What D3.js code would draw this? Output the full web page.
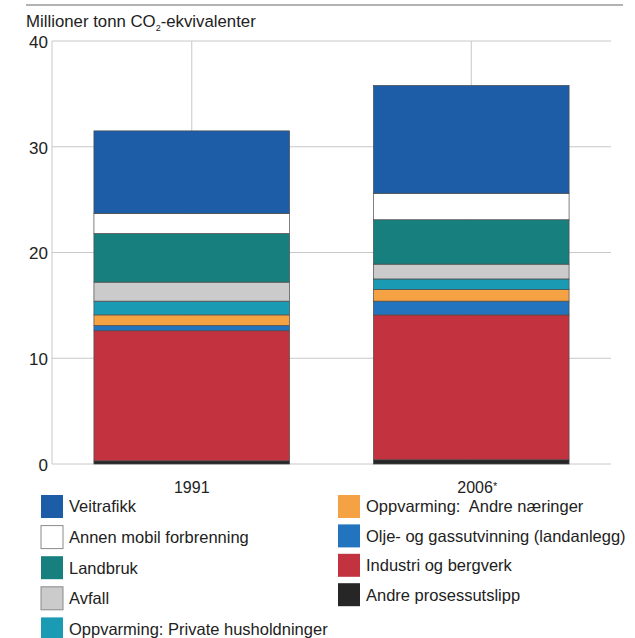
<!DOCTYPE html>
<html>
<head>
<meta charset="utf-8">
<script src="https://cdn.jsdelivr.net/npm/d3@7"></script>
<style>
  body { margin: 0; background: #fff; }
  text { font-family: "Liberation Sans", Arial, sans-serif; fill: #222; white-space: pre; }
</style>
</head>
<body>
<svg id="chart" width="635" height="638"></svg>
<script>
// Emission sources, stacked bottom to top
const years = ["1991", "2006"];
const sources = [
  "Andre prosessutslipp",
  "Industri og bergverk",
  "Olje- og gassutvinning (landanlegg)",
  "Oppvarming:  Andre næringer",
  "Oppvarming: Private husholdninger",
  "Avfall",
  "Landbruk",
  "Annen mobil forbrenning",
  "Veitrafikk"
];
// Million tonnes CO2-equivalents per source
const values1991 = [0.3, 12.3, 0.5, 1.0, 1.3, 1.8, 4.6, 1.9, 7.8];
const values2006 = [0.4, 13.7, 1.3, 1.1, 1.0, 1.4, 4.2, 2.5, 10.2];
const colours = ["#262626", "#c2333f", "#2274be", "#f4a244", "#1b9bb3", "#cbcbcb", "#17807e", "#ffffff", "#1d5ca7"];
const yTicks = [0, 10, 20, 30, 40];
const legendLeft = ["Veitrafikk", "Annen mobil forbrenning", "Landbruk", "Avfall", "Oppvarming: Private husholdninger"];
const legendRight = ["Oppvarming:  Andre næringer", "Olje- og gassutvinning (landanlegg)", "Industri og bergverk", "Andre prosessutslipp"];

const svg = d3.select("#chart");
const colour = d3.scaleOrdinal().domain(sources).range(colours);

const x = d3.scaleBand().domain(years).range([52, 611]).paddingInner(0.3).paddingOuter(0.15);
const y = d3.scaleLinear().domain([0, 40]).range([464, 41]);

const rows = years.map((yr, i) => {
  const vals = i === 0 ? values1991 : values2006;
  const r = { year: yr };
  sources.forEach((s, j) => r[s] = vals[j]);
  return r;
});
const stacked = d3.stack().keys(sources)(rows);

// Rule above the chart
svg.append("line").attr("x1", 26).attr("x2", 623).attr("y1", 5).attr("y2", 5)
  .attr("stroke", "#9a9a9a").attr("stroke-width", 1.5);

// Unit label
const unit = svg.append("text").attr("x", 26).attr("y", 27).style("font-size", "16.8px");
unit.append("tspan").text("Millioner tonn CO");
unit.append("tspan").attr("dy", 4).style("font-size", "9px").text("2");
unit.append("tspan").attr("dy", -4).text("-ekvivalenter");

// Gridlines
svg.append("g").selectAll("line").data(yTicks).join("line")
  .attr("x1", 52).attr("x2", 611)
  .attr("y1", d => y(d)).attr("y2", d => y(d))
  .attr("stroke", "#c8c8c8").attr("stroke-width", 1);

// Left axis line and category dividers
svg.append("line").attr("x1", 52).attr("x2", 52).attr("y1", y(40)).attr("y2", y(0))
  .attr("stroke", "#c8c8c8");
svg.append("g").selectAll("line").data(years).join("line")
  .attr("x1", d => x(d) + x.bandwidth() / 2).attr("x2", d => x(d) + x.bandwidth() / 2)
  .attr("y1", y(40)).attr("y2", y(0))
  .attr("stroke", "#c8c8c8");

// Y tick labels
const yAxis = d3.axisLeft(y).tickValues(yTicks).tickSize(0).tickPadding(0);
const gy = svg.append("g").attr("transform", "translate(48,1)").call(yAxis);
gy.select(".domain").remove();
gy.selectAll("text").style("font-size", "17px").attr("fill", "#222")
  .style("font-family", "\"Liberation Sans\", Arial, sans-serif");

// Stacked bars
svg.append("g").selectAll("g").data(stacked).join("g")
  .attr("fill", d => colour(d.key))
  .selectAll("rect").data(d => d).join("rect")
  .attr("x", d => x(d.data.year))
  .attr("width", x.bandwidth())
  .attr("y", d => y(d[1]))
  .attr("height", d => y(d[0]) - y(d[1]))
  .attr("stroke", "#4a4a4a").attr("stroke-width", 0.7);

// Category labels
svg.append("g").selectAll("text").data(years).join("text")
  .attr("x", d => x(d) + x.bandwidth() / 2 + (d === "2006" ? 6 : 0))
  .attr("y", 493)
  .attr("text-anchor", "middle")
  .style("font-size", "16px")
  .each(function (d) {
    const t = d3.select(this);
    t.append("tspan").text(d);
    if (d === "2006") t.append("tspan").style("font-size", "11px").attr("dy", -3).text("*");
  });

// Legend
function legendColumn(items, x0, y0, step) {
  const g = svg.append("g");
  const row = g.selectAll("g").data(items).join("g")
    .attr("transform", (d, i) => `translate(${x0},${y0 + i * step})`);
  row.append("rect").attr("width", 22).attr("height", 23)
    .attr("fill", d => colour(d))
    .attr("stroke", d => colour(d) === "#ffffff" || d === "Avfall" ? "#8a8a8a" : "none")
    .attr("stroke-width", 1);
  row.append("text").attr("x", 28).attr("y", 11.5).attr("dy", "0.36em")
    .style("font-size", "16.5px")
    .text(d => d);
}
legendColumn(legendLeft, 41, 495, 30.6);
legendColumn(legendRight, 338, 495, 29.4);
</script>
</body>
</html>
